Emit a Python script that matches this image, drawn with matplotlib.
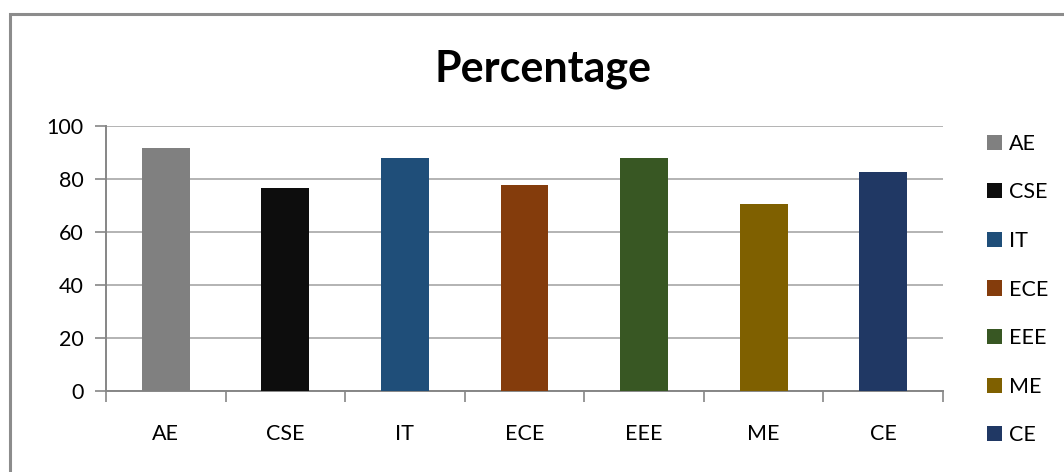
import matplotlib.pyplot as plt
from matplotlib.patches import Rectangle, Patch

categories = ["AE", "CSE", "IT", "ECE", "EEE", "ME", "CE"]
percentages = [91.6, 76.6, 87.9, 77.7, 87.9, 70.6, 82.6]
bar_colors = ["#808080", "#0d0d0d", "#1f4e79", "#843c0c", "#385723", "#7f6000", "#203864"]
y_ticks = [0, 20, 40, 60, 80, 100]

plt.rcParams['font.family'] = ['Lato', 'DejaVu Sans']

W, H = 1064, 472
fig = plt.figure(figsize=(W / 100, H / 100), dpi=100)

# outer chart border (runs off the right/bottom of the picture)
fig.patches.append(Rectangle((10 / W, -0.1), 1.2, 1 - 14 / H + 0.1, transform=fig.transFigure,
                             fill=False, edgecolor="#8c8c8c", linewidth=2.2))

ax = fig.add_axes([106 / W, 1 - 391 / H, (943 - 106) / W, (391 - 126) / H])
x = range(len(categories))
ax.bar(x, percentages, width=0.4, color=bar_colors, zorder=3)

ax.set_xlim(-0.5, len(categories) - 0.5)
ax.set_ylim(0, 100)
ax.set_yticks(y_ticks)
ax.set_yticklabels([str(v) for v in y_ticks], fontsize=15.5)
ax.yaxis.grid(True, color="#b3b3b3", linewidth=1.4, zorder=0)

# category labels centred, tick marks between categories
ax.set_xticks(list(x))
ax.set_xticklabels(categories, fontsize=15.5)
ax.tick_params(axis="x", length=0, pad=24)
ax.set_xticks([i - 0.5 for i in range(len(categories) + 1)], minor=True)
ax.tick_params(axis="x", which="minor", length=8, color="#868686", width=1.2)
ax.tick_params(axis="y", length=8, color="#868686", width=1.2, pad=8)

for s in ["top", "right"]:
    ax.spines[s].set_visible(False)
for s in ["left", "bottom"]:
    ax.spines[s].set_color("#868686")
    ax.spines[s].set_linewidth(1.4)

fig.text(543 / W, 1 - 69 / H, "Percentage", ha="center", va="center", fontsize=31, fontweight="bold")

handles = [Patch(facecolor=c, edgecolor="none") for c in bar_colors]
fig.legend(handles, categories, loc="upper left", bbox_to_anchor=(978 / W, 1 - 125 / H),
           frameon=False, fontsize=15.5, handlelength=0.7, handleheight=0.7,
           handletextpad=0.35, labelspacing=1.33, borderaxespad=0)

fig.savefig("out.png", dpi=100)
